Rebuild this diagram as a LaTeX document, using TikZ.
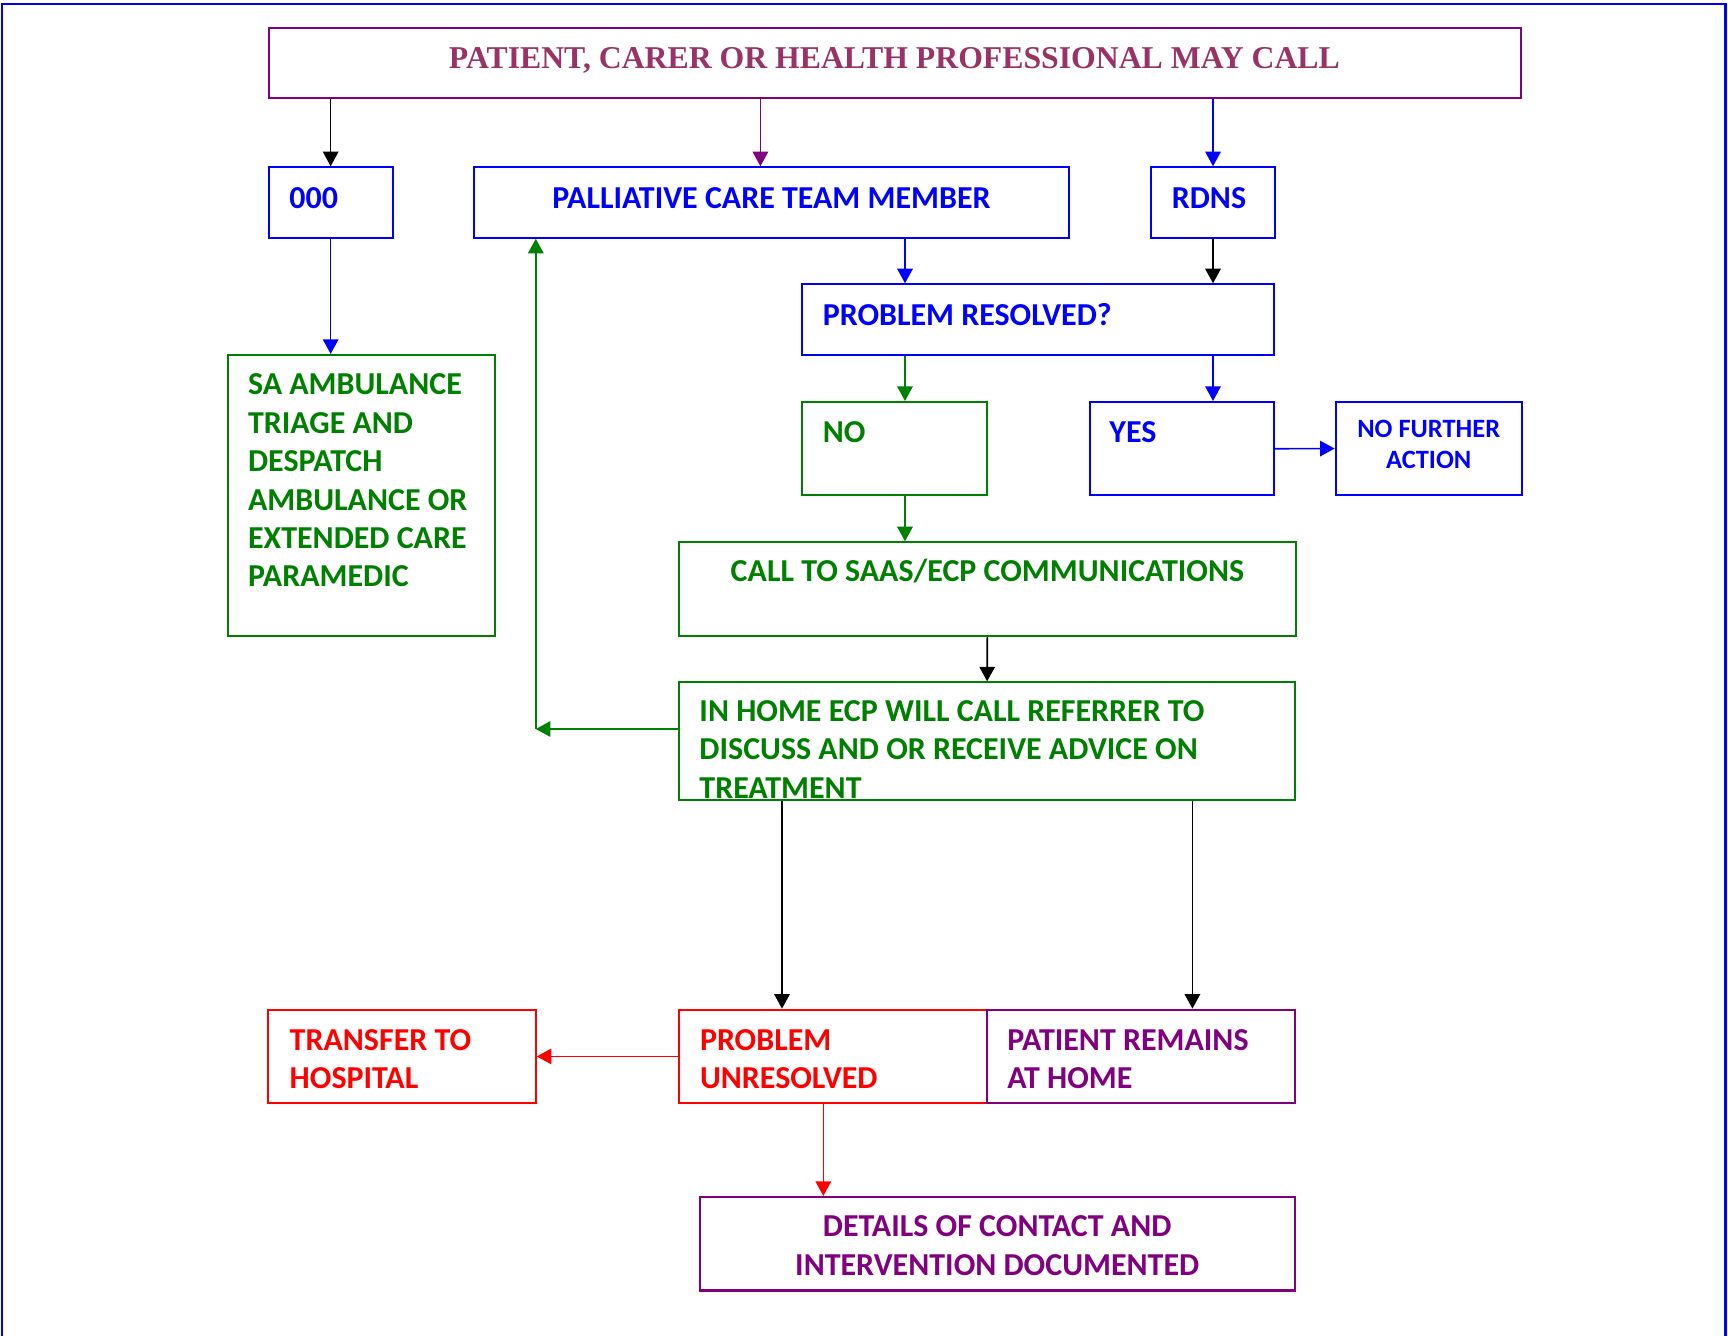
\documentclass[tikz,border=0pt]{standalone}
\usepackage{fontspec}
\setmainfont{Carlito}
\newfontfamily\titlefont{Liberation Serif}
\usetikzlibrary{arrows.meta,fit}
\definecolor{cblue}{RGB}{0,0,255}
\definecolor{cgreen}{RGB}{0,128,0}
\definecolor{cred}{RGB}{255,0,0}
\definecolor{cpurple}{RGB}{128,0,128}
\definecolor{ctitle}{RGB}{153,51,102}
\begin{document}
\begin{tikzpicture}[x=0.5pt,y=-0.5pt,
  box/.style={draw=#1, line width=0.95pt, inner sep=0pt, rectangle},
  txt/.style={text=#1, font=\bfseries\fontsize{14.5}{17.4}\selectfont, inner sep=0pt, align=left, anchor=base west},
  ctxt/.style={txt=#1, align=center, anchor=base},
  stxt/.style={text=#1, font=\bfseries\fontsize{12}{14}\selectfont, inner sep=0pt, align=center, anchor=base},
  conn/.style={draw=#1, line width=0.75pt, -{Triangle[length=6.6pt,width=7pt]}}]
\useasboundingbox (0,0) rectangle (1568,1212);
\fill[white] (0,0) rectangle (1568,1212);
% outer frame (open at the bottom)
\draw[cblue, line width=1.2pt] (1.7,1230) -- (1.7,3.6) -- (1566,3.6) -- (1566,1230);

% boxes
\node[box=cpurple, fit={(243.8,25.1) (1380.5,88.6)}] (title) {};
\node[box=cblue, fit={(243.8,151.8) (356.3,215.7)}] (zero) {};
\node[box=cblue, fit={(430,151.8) (970,215.7)}] (pal) {};
\node[box=cblue, fit={(1044.4,151.8) (1157,215.7)}] (rdns) {};
\node[box=cgreen, fit={(206.6,322.1) (449.5,576.8)}] (sa) {};
\node[box=cblue, fit={(728,258) (1156.2,322)}] (pr) {};
\node[box=cgreen, fit={(728,364.8) (895.7,449.5)}] (no) {};
\node[box=cblue, fit={(988.8,364.8) (1156.2,449.5)}] (yes) {};
\node[box=cblue, fit={(1212,364.8) (1380.8,449.2)}] (nfa) {};
\node[box=cgreen, fit={(616.2,492.1) (1175.6,577.2)}] (call) {};
\node[box=cgreen, fit={(616.2,619.2) (1175.2,726.3)}] (inhome) {};
\node[box=cred, fit={(243.5,916.2) (486.1,1001)}] (tr) {};
\node[box=cred, fit={(616.2,916.2) (895.5,1001)}] (pu) {};
\node[box=cpurple, fit={(895.5,916.2) (1175.2,1001)}] (prh) {};
\node[box=cpurple, fit={(634.8,1086.2) (1175.2,1171)}] (det) {};

% texts (multi-line texts are anchored at the baseline of their last line)
\node[text=ctitle, font=\titlefont\bfseries\fontsize{14.4}{17}\selectfont, inner sep=0pt, anchor=base] (ttitle) at (811.6,62) {PATIENT, CARER OR HEALTH PROFESSIONAL MAY CALL};
\node[txt=cblue] (tzero) at (262.2,189) {000};
\node[ctxt=cblue] (tpal) at (700,189) {PALLIATIVE CARE TEAM MEMBER};
\node[txt=cblue] (trdns) at (1062.9,189) {RDNS};
\node[txt=cgreen] (tsa) at (224.7,532.4) {SA AMBULANCE\\TRIAGE AND\\DESPATCH\\AMBULANCE OR\\EXTENDED CARE\\PARAMEDIC};
\node[txt=cblue] (tpr) at (746.2,295.6) {PROBLEM RESOLVED?};
\node[txt=cgreen] (tno) at (746.2,401.4) {NO};
\node[txt=cblue] (tyes) at (1006.3,401.4) {YES};
\node[stxt=cblue] (tnfa) at (1296.4,425) {NO FURTHER\\ACTION};
\node[ctxt=cgreen] (tcall) at (896,528) {CALL TO SAAS/ECP COMMUNICATIONS};
\node[txt=cgreen] (tinhome) at (634.3,724.4) {IN HOME ECP WILL CALL REFERRER TO\\DISCUSS AND OR RECEIVE ADVICE ON\\TREATMENT};
\node[txt=cred] (ttr) at (262.5,987.6) {TRANSFER TO\\HOSPITAL};
\node[txt=cred] (tpu) at (634.8,987.6) {PROBLEM\\UNRESOLVED};
\node[txt=cpurple] (tprh) at (913.6,987.6) {PATIENT REMAINS\\AT HOME};
\node[ctxt=cpurple] (tdet) at (904.9,1157) {DETAILS OF CONTACT AND\\INTERVENTION DOCUMENTED};

% connectors
\coordinate (corner) at (486.2,661.5);
\draw[conn=black] (title.south -| zero.north) -- (zero.north);
\draw[conn=cpurple] (title.south -| 690,0) -- (pal.north -| 690,0);
\draw[conn=cblue] (title.south -| rdns.north) -- (rdns.north);
\draw[conn=cblue] (zero.south) -- (sa.north -| zero.south);
\draw[conn=cblue] (pal.south -| 821.2,0) -- (pr.north -| 821.2,0);
\draw[conn=black] (rdns.south) -- (pr.north -| rdns.south);
\draw[conn=cgreen] (pr.south -| 821.2,0) -- (no.north -| 821.2,0);
\draw[conn=cblue] (pr.south -| rdns.south) -- (yes.north -| rdns.south);
\draw[conn=cblue] (yes.east) -- (nfa.west);
\draw[conn=cgreen] (no.south -| 821.2,0) -- (call.north -| 821.2,0);
\draw[conn=black] (call.south) -- (inhome.north);
\draw[conn=cgreen] (inhome.west |- corner) -- (corner);
\draw[conn=cgreen] (corner) -- (pal.south -| corner);
\draw[conn=black] (inhome.south -| 709.6,0) -- (pu.north -| 709.6,0);
\draw[conn=black] (inhome.south -| 1082,0) -- (prh.north -| 1082,0);
\draw[conn=cred] (pu.west) -- (tr.east);
\draw[conn=cred] (pu.south -| 747.1,0) -- (det.north -| 747.1,0);
\end{tikzpicture}
\end{document}
